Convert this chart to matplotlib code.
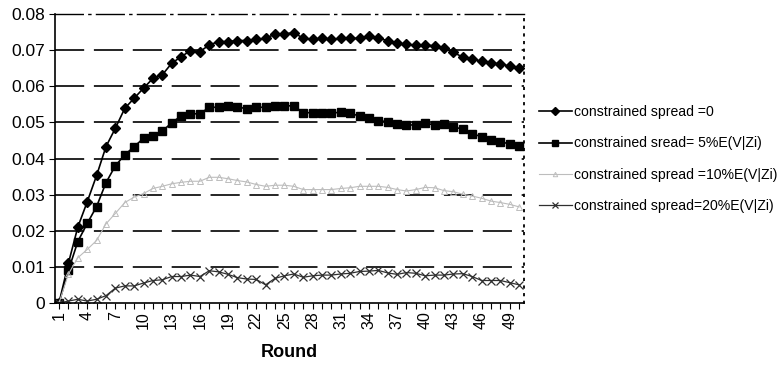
import matplotlib
matplotlib.use("Agg")
import matplotlib.pyplot as plt

plt.rcParams['font.family'] = ['Liberation Sans', 'DejaVu Sans']
plt.rcParams['lines.scale_dashes'] = False

rounds = list(range(1, 51))

spread_0 = [0.0, 0.011, 0.021, 0.028, 0.0353, 0.0433, 0.0484, 0.0539, 0.0567, 0.0595,
            0.0622, 0.0632, 0.0664, 0.0682, 0.0699, 0.0696, 0.0715, 0.0724, 0.0724, 0.0727,
            0.0727, 0.0730, 0.0733, 0.0745, 0.0745, 0.0749, 0.0733, 0.0730, 0.0733, 0.0730,
            0.0733, 0.0733, 0.0733, 0.0740, 0.0733, 0.0727, 0.0719, 0.0716, 0.0714, 0.0715,
            0.0712, 0.0706, 0.0694, 0.0681, 0.0675, 0.0670, 0.0666, 0.0661, 0.0657, 0.0650]

spread_5 = [0.0, 0.009, 0.017, 0.022, 0.0267, 0.0333, 0.0380, 0.0410, 0.0433, 0.0456,
            0.0463, 0.0476, 0.0499, 0.0518, 0.0524, 0.0524, 0.0542, 0.0542, 0.0546, 0.0544,
            0.0537, 0.0542, 0.0542, 0.0546, 0.0546, 0.0546, 0.0527, 0.0527, 0.0527, 0.0525,
            0.0529, 0.0525, 0.0518, 0.0512, 0.0505, 0.0502, 0.0496, 0.0493, 0.0493, 0.0498,
            0.0493, 0.0496, 0.0488, 0.0481, 0.0468, 0.0461, 0.0452, 0.0447, 0.0440, 0.0436]

spread_10 = [0.0, 0.008, 0.0125, 0.0148, 0.0173, 0.0219, 0.0248, 0.0278, 0.0293, 0.0303,
             0.0317, 0.0323, 0.0330, 0.0334, 0.0337, 0.0337, 0.0348, 0.0348, 0.0344, 0.0339,
             0.0335, 0.0328, 0.0323, 0.0326, 0.0326, 0.0323, 0.0314, 0.0314, 0.0314, 0.0314,
             0.0317, 0.0319, 0.0323, 0.0323, 0.0323, 0.0320, 0.0314, 0.0310, 0.0314, 0.0320,
             0.0319, 0.0311, 0.0308, 0.0301, 0.0296, 0.0290, 0.0282, 0.0278, 0.0273, 0.0266]

spread_20 = [0.0, 0.0005, 0.001, 0.0005, 0.001, 0.002, 0.0041, 0.0047, 0.0047, 0.0055,
             0.0062, 0.0064, 0.0073, 0.0073, 0.0077, 0.0073, 0.0089, 0.0086, 0.0079, 0.0070,
             0.0066, 0.0065, 0.0050, 0.0068, 0.0075, 0.0080, 0.0071, 0.0075, 0.0077, 0.0077,
             0.0080, 0.0082, 0.0087, 0.0088, 0.0090, 0.0083, 0.0079, 0.0084, 0.0082, 0.0075,
             0.0077, 0.0077, 0.0080, 0.0081, 0.0073, 0.0062, 0.0062, 0.0062, 0.0056, 0.0050]

labels = ['constrained spread =0',
          'constrained sread= 5%E(V|Zi)',
          'constrained spread =10%E(V|Zi)',
          'constrained spread=20%E(V|Zi)']

fig = plt.figure(figsize=(7.83, 3.73), dpi=100)
ax = fig.add_axes([0.070, 0.188, 0.599, 0.774])

ax.plot(rounds, spread_0, color='black', lw=1.2, marker='D', ms=5.5, label=labels[0])
ax.plot(rounds, spread_5, color='black', lw=1.2, marker='s', ms=5.5, label=labels[1])
ax.plot(rounds, spread_10, color='#bdbdbd', lw=0.8, marker='^', ms=4,
        markerfacecolor='none', markeredgewidth=0.7, label=labels[2])
ax.plot(rounds, spread_20, color='#303030', lw=0.9, marker='x', ms=6,
        markeredgewidth=0.9, label=labels[3])

# dashed horizontal gridlines
for v in [0.01, 0.02, 0.03, 0.04, 0.05, 0.06, 0.07]:
    ax.axhline(v, color='black', lw=1.2, linestyle=(0, (21, 7)), zorder=0)

ax.set_xlim(0.55, 50.5)
ax.set_ylim(0, 0.08)
ax.set_yticks([0, 0.01, 0.02, 0.03, 0.04, 0.05, 0.06, 0.07, 0.08])
ax.set_yticklabels(['0', '0.01', '0.02', '0.03', '0.04', '0.05', '0.06', '0.07', '0.08'],
                   fontsize=12.5)
ax.set_xticks(rounds)
ax.set_xticklabels([str(r) if (r - 1) % 3 == 0 else '' for r in rounds],
                   rotation=90, fontsize=11.5)
ax.tick_params(axis='x', length=4, width=0.8, pad=2)
ax.tick_params(axis='y', length=4, width=0.8, pad=3)
ax.set_xlabel('Round', fontsize=13, fontweight='bold', labelpad=11)

ax.spines['top'].set_linestyle((0, (20, 4, 1.5, 4)))
ax.spines['top'].set_linewidth(1.0)
ax.spines['right'].set_linestyle((0, (1, 4.5)))
ax.spines['right'].set_linewidth(1.3)
ax.spines['left'].set_linewidth(1.2)
ax.spines['bottom'].set_linewidth(1.2)

fig.legend(loc='upper left', bbox_to_anchor=(0.688, 0.718), frameon=False,
           fontsize=10.1, handlelength=2.35, handletextpad=0.2, labelspacing=1.23,
           markerscale=0.8, borderaxespad=0, borderpad=0)

fig.savefig('out.png', dpi=100)
